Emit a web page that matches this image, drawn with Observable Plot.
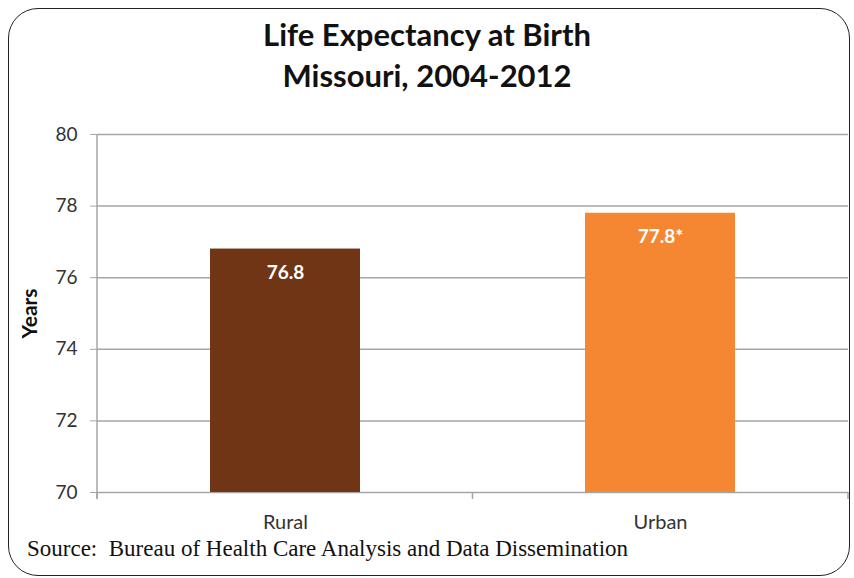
<!DOCTYPE html>
<html><head><meta charset="utf-8">
<script src="https://cdn.jsdelivr.net/npm/d3@7"></script>
<script src="https://cdn.jsdelivr.net/npm/@observablehq/plot@0.6"></script>
<style>
html,body{margin:0;padding:0;background:#fff;}
#wrap{position:relative;width:854px;height:578px;overflow:hidden;}
#frame{position:absolute;left:8px;top:8px;width:840px;height:566px;border:1.6px solid #222;border-radius:30px;}
.title{position:absolute;left:0;width:854px;text-align:center;font-family:Lato,"Open Sans",sans-serif;font-weight:bold;font-size:31px;color:#111;}
#chart{position:absolute;left:0;top:110px;}
#source{position:absolute;left:27px;top:536px;font-family:"Liberation Serif","DejaVu Serif",serif;font-size:23px;color:#111;white-space:nowrap;}
</style></head>
<body>
<div id="wrap">
<div id="frame"></div>
<div class="title" style="top:15px">Life Expectancy at Birth</div>
<div class="title" style="top:56px">Missouri, 2004-2012</div>
<div id="chart"></div>
<div id="source">Source:&nbsp; Bureau of Health Care Analysis and Data Dissemination</div>
</div>
<script>
const categories = ["Rural", "Urban"];
const values = [76.8, 77.8];
const valueLabels = ["76.8", "77.8*"];
const colors = ["#703515", "#F58733"];
const yTicks = [70, 72, 74, 76, 78, 80];

const data = categories.map((c, i) => ({cat: c, value: values[i], label: valueLabels[i], color: colors[i]}));

// y-axis line plus x tick marks at band boundaries
const axisLines = (index, scales, values, dim) => {
  const g = d3.create("svg:g").attr("stroke", "#a6a6a6").attr("stroke-width", 1.5);
  const x0 = dim.marginLeft, x1 = dim.width - dim.marginRight;
  const yb = dim.height - dim.marginBottom, yt = dim.marginTop;
  g.append("line").attr("x1", x0).attr("x2", x0).attr("y1", yt).attr("y2", yb + 7);
  for (const x of [x0, (x0 + x1) / 2, x1]) {
    g.append("line").attr("x1", x).attr("x2", x).attr("y1", yb).attr("y2", yb + 7);
  }
  return g.node();
};

const chart = Plot.plot({
  width: 854,
  height: 430,
  marginLeft: 97,
  marginRight: 6,
  marginTop: 24,
  marginBottom: 48,
  style: {fontFamily: "Lato, 'Open Sans', sans-serif", background: "transparent"},
  x: {domain: categories, paddingInner: 0.6, paddingOuter: 0.3, label: null},
  y: {domain: [70, 80], label: null},
  marks: [
    Plot.ruleY(yTicks, {stroke: "#a6a6a6", strokeWidth: 1.5, strokeOpacity: 1}),
    Plot.barY(data, {x: "cat", y1: 70, y2: "value", fill: "color"}),
    Plot.text(data, {x: "cat", y: "value", text: "label", dy: 24, fill: "white", fontWeight: "bold", fontSize: 19}),
    Plot.axisY({ticks: yTicks, tickSize: 7, tickPadding: 13, stroke: "#a6a6a6", fill: "#333", fontSize: 19, label: null, tickFormat: d => String(d)}),
    Plot.axisX({tickSize: 0, tickPadding: 22, fontSize: 20, fill: "#333", label: null}),
    axisLines,
    Plot.text(["Years"], {frameAnchor: "left", textAnchor: "middle", dx: -67, rotate: -90, fontWeight: "bold", fontSize: 21, fill: "#111"})
  ]
});
document.getElementById("chart").appendChild(chart);
</script>
</body></html>
